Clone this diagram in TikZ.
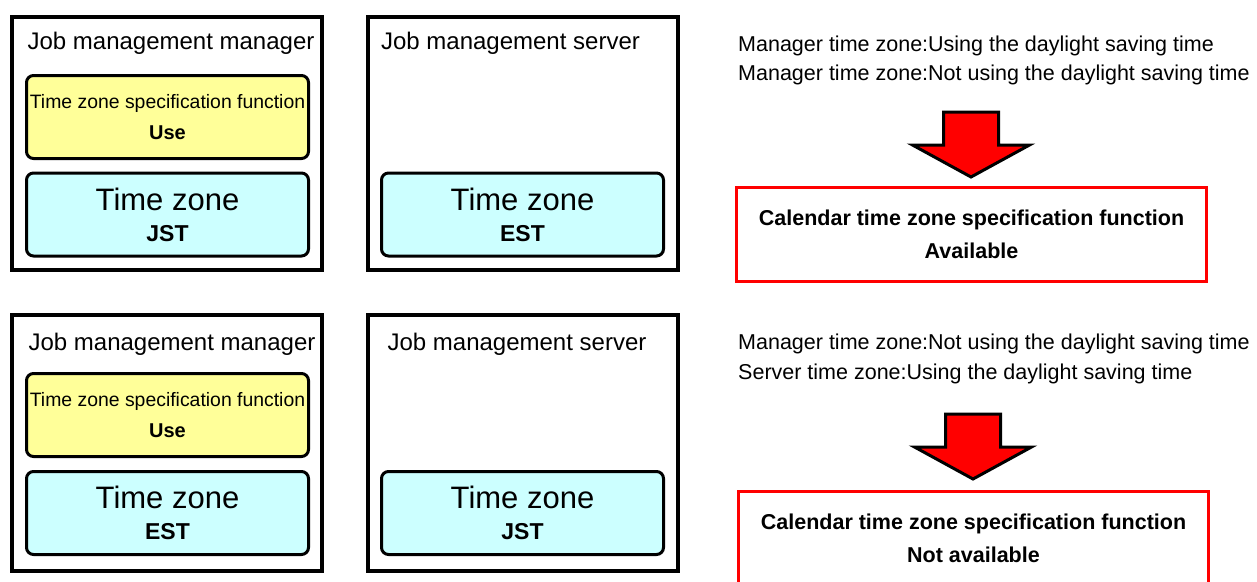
\documentclass[tikz,border=0pt]{standalone}
\usepackage{fontspec}
\setmainfont{Liberation Sans}
\usetikzlibrary{positioning}
\definecolor{funcyellow}{RGB}{255,255,153}
\definecolor{zonecyan}{RGB}{204,255,255}

\begin{document}
\begin{tikzpicture}[x=1pt, y=-1pt, font=\fontsize{21.5}{25}\selectfont]
\tikzset{
  frame/.style={rectangle, draw=black, line width=3.5pt, minimum width=310pt, minimum height=253pt, inner sep=0pt},
  funcbox/.style={rectangle, rounded corners=7pt, draw=black, line width=3pt, fill=funcyellow, minimum width=282pt, minimum height=83pt, align=center, inner sep=0pt},
  zonebox/.style={funcbox, fill=zonecyan},
  result/.style={rectangle, draw=red, line width=3pt, minimum width=470pt, minimum height=94pt, align=center, font=\bfseries\fontsize{21.5}{33}\selectfont},
  title/.style={font=\fontsize{24}{28}\selectfont, inner sep=0pt},
  note/.style={anchor=west, inner sep=0pt},
  bigarrow/.style={draw=black, line width=3pt, fill=red, line join=miter},
}
\useasboundingbox (0,0) rectangle (1257,581);

% upper case
\node[frame] (mgrA) at (167,143.5) {};
\node[title] (mgrAt) at (171,43) {Job management manager};
\node[funcbox] (funcA) at (167.5,117) {{\fontsize{19.4}{22}\selectfont Time zone specification function}\\[6pt]{\bfseries\fontsize{20}{22}\selectfont Use}};
\node[zonebox] (zoneA) at (167.5,214.5) {{\fontsize{31}{33}\selectfont Time zone}\\[6pt]{\bfseries\fontsize{23}{25}\selectfont JST}};
\node[frame] (srvA) at (523,143.5) {};
\node[title] (srvAt) at (510.5,43) {Job management server};
\node[zonebox] (zoneB) at (522.5,214.5) {{\fontsize{31}{33}\selectfont Time zone}\\[6pt]{\bfseries\fontsize{23}{25}\selectfont EST}};
\node[note] (noteA1) at (738,46) {Manager time zone:Using the daylight saving time};
\node[note] (noteA2) at (738,75) {Manager time zone:Not using the daylight saving time};
\coordinate (arrowA) at (971,112);
\draw[bigarrow, shift={(arrowA)}] (-27.5,0) -- (27.5,0) -- (27.5,33) -- (58.5,33) -- (0,65) -- (-58.5,33) -- (-27.5,33) -- cycle;
\node[result] (resA) at (971.5,234.5) {Calendar time zone specification function\\Available};

% lower case
\node[frame, minimum height=256pt] (mgrB) at (167,443) {};
\node[title] (mgrBt) at (172,344) {Job management manager};
\node[funcbox] (funcB) at (167.5,415) {{\fontsize{19.4}{22}\selectfont Time zone specification function}\\[6pt]{\bfseries\fontsize{20}{22}\selectfont Use}};
\node[zonebox] (zoneC) at (167.5,513) {{\fontsize{31}{33}\selectfont Time zone}\\[6pt]{\bfseries\fontsize{23}{25}\selectfont EST}};
\node[frame, minimum height=256pt] (srvB) at (523,443) {};
\node[title] (srvBt) at (517,344) {Job management server};
\node[zonebox] (zoneD) at (522.5,513) {{\fontsize{31}{33}\selectfont Time zone}\\[6pt]{\bfseries\fontsize{23}{25}\selectfont JST}};
\node[note] (noteB1) at (738,344) {Manager time zone:Not using the daylight saving time};
\node[note] (noteB2) at (738,374) {Server time zone:Using the daylight saving time};
\coordinate (arrowB) at (973,414);
\draw[bigarrow, shift={(arrowB)}] (-27.5,0) -- (27.5,0) -- (27.5,33) -- (58.5,33) -- (0,65) -- (-58.5,33) -- (-27.5,33) -- cycle;
\node[result] (resB) at (973.5,538.5) {Calendar time zone specification function\\Not available};
\end{tikzpicture}
\end{document}
